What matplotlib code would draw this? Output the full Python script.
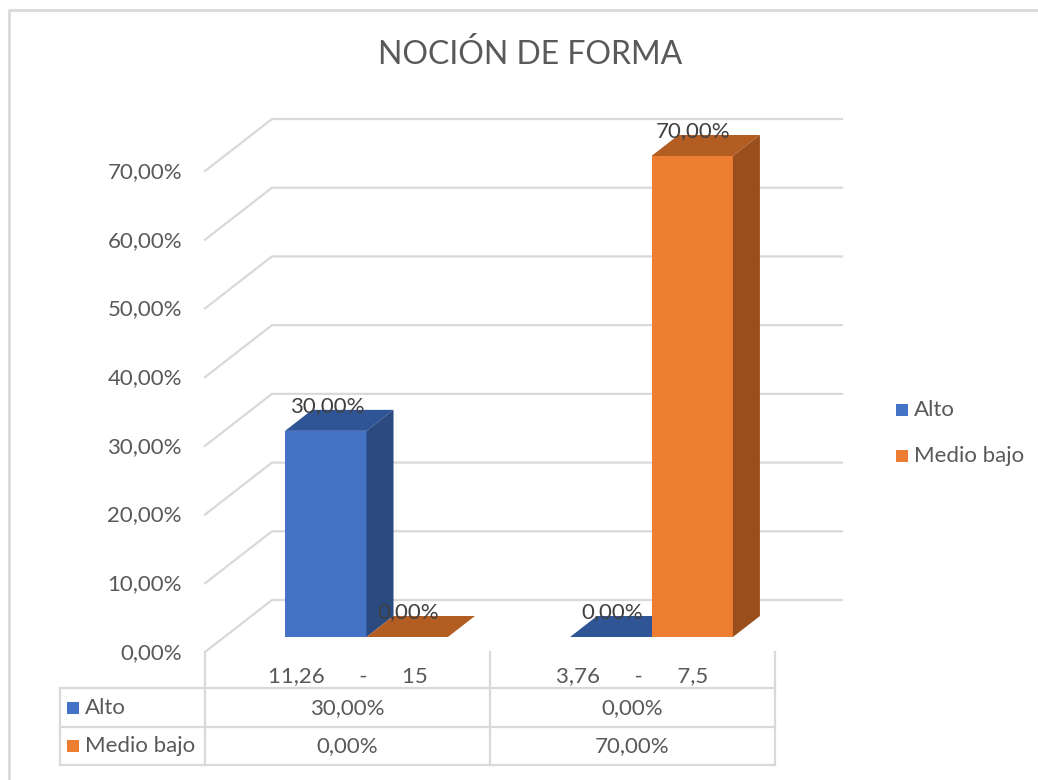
import matplotlib
matplotlib.use("Agg")
import matplotlib.pyplot as plt
from matplotlib.patches import Polygon, Rectangle
import matplotlib.transforms as mtransforms
import numpy as np

# data
categories = ["11,26      -      15", "3,76      -      7,5"]
series = ["Alto", "Medio bajo"]
alto = [30.0, 0.0]
medio_bajo = [0.0, 70.0]
yticks = [0, 10, 20, 30, 40, 50, 60, 70]

W, H = 1038, 780
txt = "#595959"
grid = "#D9D9D9"
front_col = ["#4472C4", "#ED7D31"]
top_col = ["#2F5597", "#B45D22"]
side_col = ["#2A4A80", "#9A4E1C"]
fs = 16

plt.rcParams["font.family"] = ["Lato", "DejaVu Sans"]

fig = plt.figure(figsize=(W / 100, H / 100), dpi=100)

# overlay in pixel coords (y down)
ov = fig.add_axes([0, 0, 1, 1])
ov.set_xlim(0, W)
ov.set_ylim(H, 0)
ov.axis("off")

ax = fig.add_axes([205 / W, (H - 652) / H, 570 / W, (652 - 171) / H])
ax.set_xlim(0, 2)
ax.set_ylim(0, 70)
ax.axis("off")


def shift(x, y, dx, dy):
    p = ax.transData.transform((x, y)) + np.array([dx, dy])
    return ax.transData.inverted().transform(p)


# depth offsets in pixels
wall = (67, 52)
bf = (19, 15)
bb = (46, 36)

# walls / gridlines
for v in yticks:
    p0 = (0, v)
    p1 = shift(0, v, *wall)
    p2 = shift(2, v, *wall)
    ax.plot([p0[0], p1[0], p2[0]], [p0[1], p1[1], p2[1]], color=grid, lw=1.6,
            clip_on=False, zorder=1, solid_joinstyle="miter")
    ax.annotate(f"{v:.2f}%".replace(".", ","), (0, v), xytext=(-23, -1),
                textcoords="offset pixels", ha="right", va="center",
                fontsize=fs, color=txt)

# bars
w = 1 / 3.5
values = [alto, medio_bajo]
for i in range(len(categories)):
    for j in range(len(series)):
        v = values[j][i]
        x0 = i + 0.5 - w + j * w
        x1 = x0 + w
        fbl = shift(x0, 0, *bf)
        fbr = shift(x1, 0, *bf)
        ftl = shift(x0, v, *bf)
        ftr = shift(x1, v, *bf)
        btl = shift(x0, v, *bb)
        btr = shift(x1, v, *bb)
        bbr = shift(x1, 0, *bb)
        ax.add_patch(Polygon([fbl, fbr, ftr, ftl], closed=True, fc=front_col[j],
                             ec="none", clip_on=False, zorder=3))
        ax.add_patch(Polygon([ftl, ftr, btr, btl], closed=True, fc=top_col[j],
                             ec="none", clip_on=False, zorder=3))
        ax.add_patch(Polygon([ftr, btr, bbr, fbr], closed=True, fc=side_col[j],
                             ec="none", clip_on=False, zorder=3))
        ax.annotate(f"{v:.2f}%".replace(".", ","), (x0 + w / 2, v), xytext=(20, 40),
                    textcoords="offset pixels", ha="center", va="center",
                    fontsize=fs, color="#404040", zorder=5)

# category labels + data table
bt = mtransforms.blended_transform_factory(ax.transData, ov.transData)
for i, c in enumerate(categories):
    ax.text(i + 0.5, 676, c, transform=bt, ha="center", va="center",
            fontsize=fs, color=txt)
for xc in range(len(categories) + 1):
    ax.plot([xc, xc], [652, 765], transform=bt, color=grid, lw=1.6, clip_on=False)
for yl in [688, 727, 765]:
    ov.plot([60, ax.transData.transform((2, 0))[0]], [yl, yl], color=grid, lw=1.6)
ov.plot([60, 60], [688, 765], color=grid, lw=1.6)

row_y = [708, 746]
for j, s in enumerate(series):
    ov.add_patch(Rectangle((67, row_y[j] - 6), 12, 12, fc=front_col[j], ec="none"))
    ov.text(85, row_y[j], s, ha="left", va="center", fontsize=fs, color=txt)
    for i in range(len(categories)):
        ax.text(i + 0.5, row_y[j], f"{values[j][i]:.2f}%".replace(".", ","),
                transform=bt, ha="center", va="center", fontsize=fs, color=txt)

# legend
leg_y = [410, 456]
for j, s in enumerate(series):
    ov.add_patch(Rectangle((896, leg_y[j] - 6), 12, 12, fc=front_col[j], ec="none"))
    ov.text(914, leg_y[j], s, ha="left", va="center", fontsize=fs, color=txt)

# title
ov.text(530, 55, "NOCIÓN DE FORMA", ha="center", va="center", fontsize=23, color=txt)

# chart border
ov.plot([9, 9, W], [H, 10, 10], color=grid, lw=2)

fig.savefig("out.png", dpi=100)
